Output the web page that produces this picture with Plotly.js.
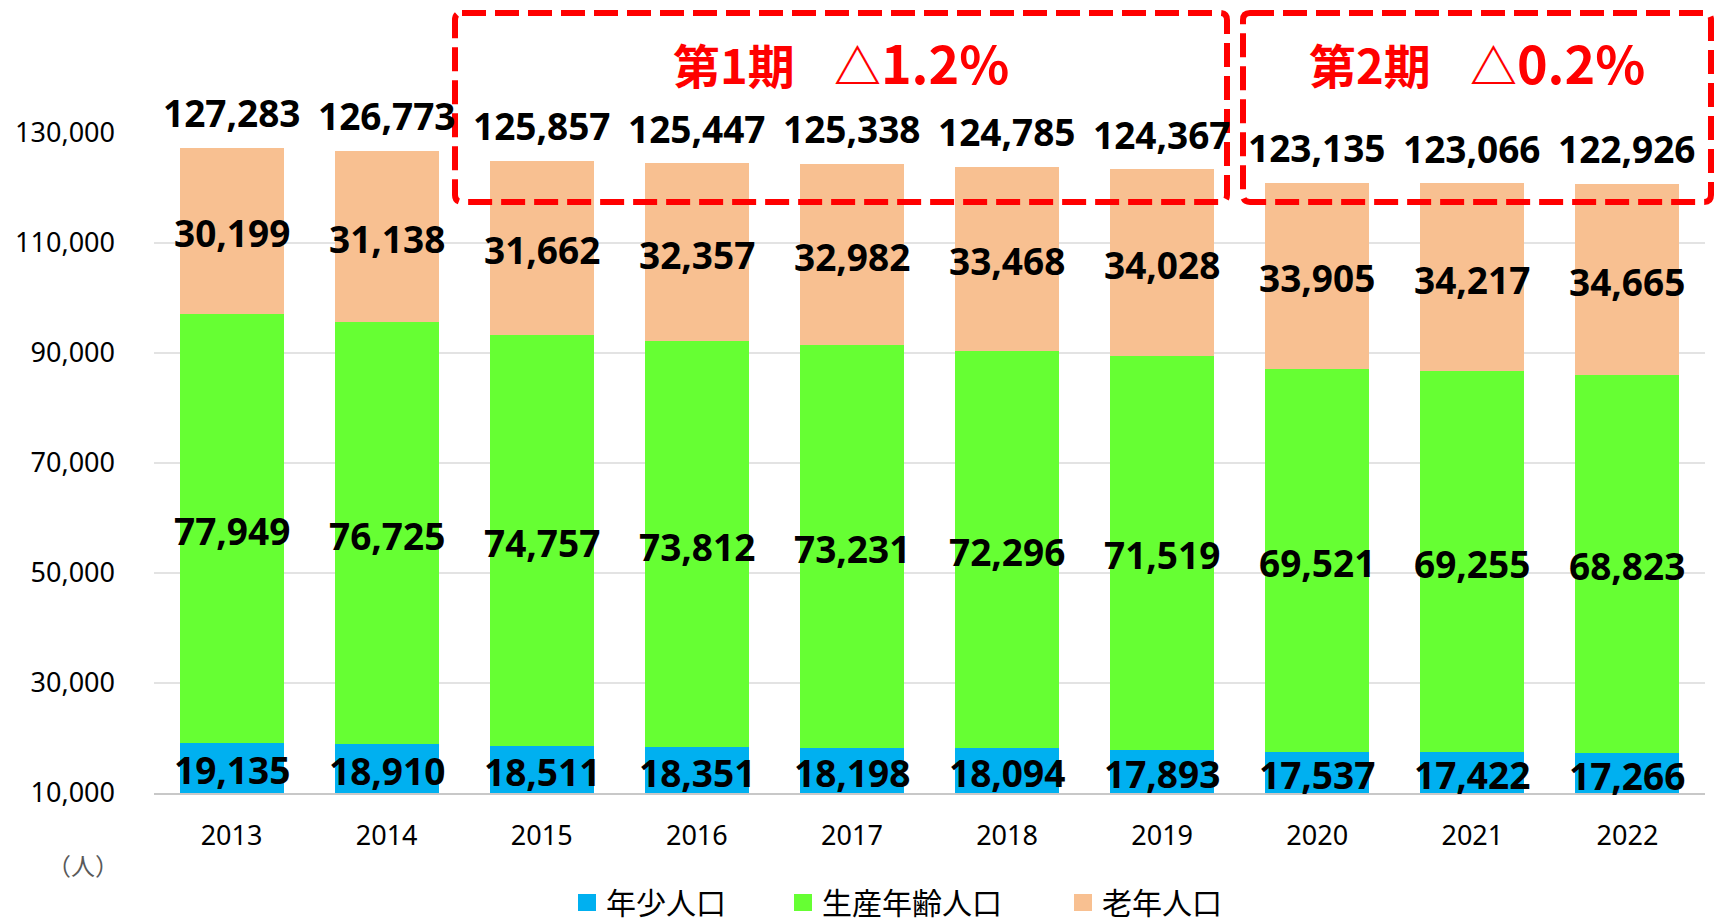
<!DOCTYPE html>
<html><head><meta charset="utf-8">
<script src="https://cdn.plot.ly/plotly-3.0.1.min.js"></script>
<style>html,body{margin:0;padding:0;background:#fff;}#chart{width:1717px;height:918px;}</style>
</head><body><div id="chart"></div>
<script>
// ---- data ----
const years = ['2013','2014','2015','2016','2017','2018','2019','2020','2021','2022'];
const youth = [19135,18910,18511,18351,18198,18094,17893,17537,17422,17266];
const working = [77949,76725,74757,73812,73231,72296,71519,69521,69255,68823];
const elderly = [30199,31138,31662,32357,32982,33468,34028,33905,34217,34665];
const totals = [127283,126773,125857,125447,125338,124785,124367,123135,123066,122926];
const seriesNames = ['年少人口','生産年齢人口','老年人口'];
const yTickVals = [10000,30000,50000,70000,90000,110000,130000];
const periodNames = ['第1期','第2期'];
const periodChanges = ['△1.2%','△0.2%'];
const unitLabel = '（人）';

// ---- styling ----
const colors = ['#00B0F0','#66FF33','#F8C091'];
const yMin = 10000, yMax = 130000;
const W = 1717, H = 918;
const M = {l:154, r:12, t:133, b:125};
const PW = W - M.l - M.r, PH = H - M.t - M.b;
const px = x => (x - M.l) / PW;
const py = y => (H - M.b - y) / PH;
const fmt = v => v.toLocaleString('en-US');
const numFont = {family:'"Noto Sans", "DejaVu Sans", sans-serif', size:37, color:'#000'};
const xi = years.map((_, i) => i);   // category positions

const series = [youth, working, elderly];
const traces = [];
const annotations = [];
const base = years.map(() => 0);
series.forEach((vals, si) => {
  traces.push({type:'bar', x:xi, y:vals, name:seriesNames[si], width:0.67,
    marker:{color:colors[si], line:{width:0}}, showlegend:false, hoverinfo:'skip'});
  vals.forEach((v, i) => {
    const lo = Math.max(base[i], yMin), hi = base[i] + v;
    annotations.push({x:xi[i], y:(lo + hi) / 2, xref:'x', yref:'y', text:'<b>' + fmt(v) + '</b>',
      showarrow:false, xanchor:'center', yanchor:'middle', yshift:-2, font:numFont});
    base[i] = hi;
  });
});

totals.forEach((t, i) => annotations.push({
  x: xi[i], y: base[i], xref:'x', yref:'y', text:'<b>' + fmt(t) + '</b>',
  showarrow:false, xanchor:'center', yanchor:'middle', yshift:35, font:numFont
}));
annotations.push({xref:'paper', yref:'paper', x:px(83), y:py(864), text:unitLabel,
  showarrow:false, xanchor:'center', yanchor:'middle',
  font:{family:'"Noto Sans CJK JP", sans-serif', size:24, color:'#595959'}});

// dashed period boxes with rounded corners
function roundRect(x0, y0, x1, y1, r) {
  const X = v => px(v), Y = v => py(v);
  return 'M' + X(x0 + r) + ',' + Y(y0) + ' L' + X(x1 - r) + ',' + Y(y0) +
    ' Q' + X(x1) + ',' + Y(y0) + ' ' + X(x1) + ',' + Y(y0 + r) +
    ' L' + X(x1) + ',' + Y(y1 - r) +
    ' Q' + X(x1) + ',' + Y(y1) + ' ' + X(x1 - r) + ',' + Y(y1) +
    ' L' + X(x0 + r) + ',' + Y(y1) +
    ' Q' + X(x0) + ',' + Y(y1) + ' ' + X(x0) + ',' + Y(y1 - r) +
    ' L' + X(x0) + ',' + Y(y0 + r) +
    ' Q' + X(x0) + ',' + Y(y0) + ' ' + X(x0 + r) + ',' + Y(y0) + ' Z';
}
const boxes = [[455,1227],[1243,1711]];
const shapes = [];
boxes.forEach((b, k) => {
  shapes.push({type:'path', xref:'paper', yref:'paper', path:roundRect(b[0], 13, b[1], 202, 7),
    line:{color:'#FF0000', width:6, dash:'24px,9px'}, fillcolor:'rgba(0,0,0,0)', layer:'above'});
  annotations.push({xref:'paper', yref:'paper', x:px((b[0]+b[1])/2), y:py(62),
    text:'<b>' + periodNames[k] + '\u2002\u2004' + periodChanges[k].charAt(0) +
         '<span style="font-size:52px">' + periodChanges[k].slice(1) + '</span></b>',
    showarrow:false, xanchor:'center', yanchor:'middle',
    font:{family:'"Noto Sans CJK JP", sans-serif', size:47, color:'#FF0000'}});
});

// legend (manual)
const legX = [578, 794, 1074];
seriesNames.forEach((n, i) => {
  shapes.push({type:'rect', xref:'paper', yref:'paper', x0:px(legX[i]), x1:px(legX[i]+18),
    y0:py(911), y1:py(894), fillcolor:colors[i], line:{width:0}});
  annotations.push({xref:'paper', yref:'paper', x:px(legX[i]+26), y:py(901), text:n,
    showarrow:false, xanchor:'left', yanchor:'middle',
    font:{family:'"Noto Sans CJK JP", sans-serif', size:30, color:'#000'}});
});

const layout = {
  width:W, height:H, margin:{l:M.l, r:M.r, t:M.t, b:M.b, pad:0},
  paper_bgcolor:'#fff', plot_bgcolor:'#fff',
  barmode:'stack',
  showlegend:false,
  xaxis:{type:'linear', range:[-0.5, years.length - 0.5], tickmode:'array', tickvals:xi, ticktext:years,
    showgrid:false, zeroline:false, showline:true, linecolor:'#C8C8C8', linewidth:2,
    ticks:'', ticklabelstandoff:18, tickfont:{family:'"Noto Sans", sans-serif', size:27, color:'#000'}},
  yaxis:{range:[yMin, yMax], tickmode:'array', tickvals:yTickVals, ticktext:yTickVals.map(fmt),
    showgrid:true, gridcolor:'#E3E3E3', gridwidth:1.5, zeroline:false, showline:false,
    ticks:'', ticklabelstandoff:38, tickfont:{family:'"Noto Sans", sans-serif', size:27, color:'#000'}},
  annotations:annotations, shapes:shapes
};
Plotly.newPlot('chart', traces, layout, {displayModeBar:false, staticPlot:true});
</script></body></html>
